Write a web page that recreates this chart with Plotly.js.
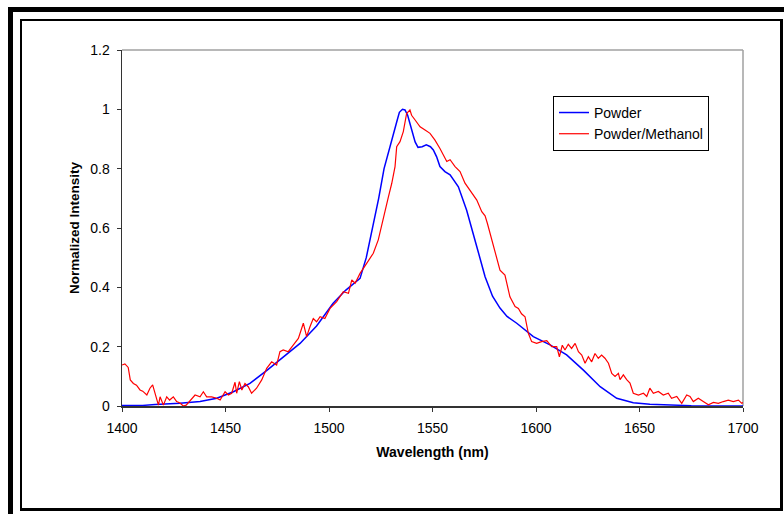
<!DOCTYPE html>
<html>
<head>
<meta charset="utf-8">
<script src="https://cdn.plot.ly/plotly-3.0.1.min.js"></script>
<style>
  html, body { margin: 0; padding: 0; background: #fff; }
  #wrap { position: relative; width: 784px; height: 514px; overflow: hidden; }
  #chart { position: absolute; left: 0; top: 0; width: 784px; height: 514px; }
  .frame { position: absolute; pointer-events: none; box-sizing: border-box; }
  #outer { left: 8px; top: 7px; width: 800px; height: 520px; border-left: 5px solid #000; border-top: 5px solid #000; }
  #inner { left: 20px; top: 19px; width: 763px; height: 492px; border-left: 2px solid #000; border-top: 2px solid #000; border-right: 3px solid #000; border-bottom: 3px solid #000; }
</style>
</head>
<body>
<div id="wrap">
  <div id="chart"></div>
  <div id="outer" class="frame"></div>
  <div id="inner" class="frame"></div>
</div>
<script>
// Powder (blue)
const powderX = [1400, 1410, 1416, 1420, 1428, 1437.7, 1445.8, 1453.8, 1461.8, 1470, 1478, 1486, 1494, 1502, 1508, 1515, 1518, 1521, 1524, 1526.6, 1529, 1531, 1533, 1534, 1535.5, 1536.7, 1538, 1539, 1540.5, 1541.6, 1543, 1545, 1547, 1549, 1550.4, 1552, 1553.6, 1556, 1558.5, 1562.5, 1566.5, 1569, 1571.4, 1575.4, 1579, 1582.6, 1586, 1590.7, 1598.7, 1606.8, 1614.8, 1622.9, 1631, 1639, 1647, 1655, 1663, 1675, 1690, 1700];
const powderY = [0.002, 0.002, 0.005, 0.006, 0.009, 0.015, 0.026, 0.048, 0.076, 0.12, 0.165, 0.211, 0.27, 0.346, 0.39, 0.43, 0.5, 0.6, 0.7, 0.8, 0.865, 0.915, 0.965, 0.99, 1.0, 0.998, 0.98, 0.955, 0.915, 0.89, 0.872, 0.874, 0.88, 0.874, 0.863, 0.84, 0.807, 0.79, 0.779, 0.739, 0.66, 0.593, 0.537, 0.436, 0.37, 0.33, 0.302, 0.279, 0.234, 0.206, 0.172, 0.121, 0.065, 0.026, 0.011, 0.006, 0.003, 0.001, 0.0, 0.0];

// Powder/Methanol (red)
const methX = [1400, 1401.4, 1403, 1404, 1405.5, 1407, 1408.7, 1410, 1412, 1413.5, 1414.8, 1416, 1417.6, 1418.4, 1420, 1421.6, 1423, 1424.8, 1426.4, 1428, 1429.6, 1431, 1433.7, 1435.3, 1437.7, 1439.3, 1440.9, 1443.3, 1445.8, 1447.4, 1449.8, 1451.4, 1453, 1454.6, 1455.4, 1456.7, 1457.9, 1459.4, 1461, 1462.6, 1465, 1467.5, 1469.9, 1472.3, 1474.7, 1476.3, 1477.9, 1480.3, 1482.8, 1485.2, 1487.6, 1489.2, 1490.8, 1492.4, 1494, 1495.7, 1498, 1500.5, 1503.7, 1506.9, 1509.4, 1511, 1512.6, 1515, 1518.2, 1521.4, 1523.8, 1525.4, 1527, 1528.7, 1530.3, 1531.9, 1532.7, 1534.3, 1535.9, 1537.5, 1539.1, 1539.9, 1541.6, 1544, 1546.4, 1548.8, 1551.2, 1553.6, 1556.9, 1558.5, 1560.9, 1563.3, 1565.7, 1568.1, 1571.4, 1573.8, 1575.4, 1576.5, 1577.8, 1580.2, 1582.6, 1585, 1587.4, 1589.9, 1591.5, 1593, 1594.7, 1596.3, 1597.9, 1600.3, 1602.7, 1605.2, 1607.6, 1610, 1611.3, 1612.7, 1614, 1615.6, 1617.2, 1618.9, 1620.5, 1622.1, 1623.7, 1625.3, 1626.9, 1628.5, 1630.1, 1631.7, 1633.3, 1635, 1636.6, 1638.2, 1639.8, 1640.6, 1642.2, 1643.8, 1645.4, 1647, 1649.5, 1651.9, 1653.5, 1655, 1656.7, 1659.1, 1661.5, 1663.9, 1665.5, 1668, 1670.4, 1672.8, 1674.4, 1676, 1678.4, 1680.8, 1683.3, 1685.7, 1688.1, 1690.5, 1692.9, 1695.3, 1697.8, 1699.4, 1700];
const methY = [0.138, 0.142, 0.13, 0.088, 0.076, 0.07, 0.054, 0.05, 0.037, 0.06, 0.071, 0.043, 0.003, 0.031, 0.003, 0.031, 0.02, 0.031, 0.015, 0.01, 0.0, 0.003, 0.026, 0.037, 0.031, 0.048, 0.031, 0.031, 0.026, 0.02, 0.048, 0.037, 0.043, 0.08, 0.043, 0.082, 0.054, 0.076, 0.065, 0.043, 0.06, 0.088, 0.127, 0.149, 0.138, 0.183, 0.189, 0.183, 0.206, 0.228, 0.279, 0.234, 0.267, 0.295, 0.284, 0.301, 0.295, 0.329, 0.352, 0.385, 0.38, 0.425, 0.414, 0.447, 0.481, 0.515, 0.56, 0.61, 0.66, 0.705, 0.75, 0.807, 0.874, 0.891, 0.925, 0.986, 0.998, 0.98, 0.964, 0.941, 0.93, 0.919, 0.896, 0.868, 0.824, 0.83, 0.807, 0.79, 0.751, 0.728, 0.694, 0.655, 0.641, 0.616, 0.582, 0.526, 0.458, 0.441, 0.368, 0.335, 0.329, 0.311, 0.301, 0.245, 0.217, 0.211, 0.217, 0.22, 0.2, 0.2, 0.166, 0.205, 0.189, 0.208, 0.194, 0.211, 0.183, 0.172, 0.144, 0.166, 0.149, 0.177, 0.161, 0.172, 0.161, 0.144, 0.11, 0.1, 0.11, 0.089, 0.105, 0.089, 0.077, 0.043, 0.037, 0.043, 0.032, 0.06, 0.043, 0.049, 0.037, 0.043, 0.026, 0.032, 0.009, 0.037, 0.032, 0.015, 0.026, 0.015, 0.004, 0.012, 0.009, 0.015, 0.02, 0.015, 0.02, 0.009, 0.012];

const seriesNames = ["Powder", "Powder/Methanol"];
const xTickVals = [1400, 1450, 1500, 1550, 1600, 1650, 1700];
const yTickVals = [0, 0.2, 0.4, 0.6, 0.8, 1, 1.2];

const fam = "Liberation Sans, Arial, sans-serif";
const font = {family: fam, size: 14, color: "#000"};

const traces = [
  {x: powderX, y: powderY, name: seriesNames[0], type: "scatter", mode: "lines",
   line: {color: "#0000ff", width: 1.5}, legendgroup: "a"},
  {x: methX, y: methY, name: seriesNames[1], type: "scatter", mode: "lines",
   line: {color: "#ff0000", width: 1.2}, legendgroup: "b"}
];

const layout = {
  width: 784, height: 514,
  margin: {l: 122, r: 41, t: 50, b: 108},
  paper_bgcolor: "rgba(0,0,0,0)",
  plot_bgcolor: "#fff",
  font: font,
  showlegend: true,
  legend: {
    x: 0.694, y: 0.871, xanchor: "left", yanchor: "top",
    bgcolor: "#fff", bordercolor: "#000", borderwidth: 1,
    font: {family: fam, size: 14, color: "#000"},
    tracegroupgap: 0
  },
  xaxis: {
    range: [1400, 1700], tickvals: xTickVals, ticktext: xTickVals.map(String),
    ticks: "outside", ticklen: 4, tickcolor: "#333", tickwidth: 1,
    ticklabelstandoff: 5,
    showline: true, linecolor: "#333", linewidth: 1.5,
    showgrid: false, zeroline: false,
    tickfont: {family: fam, size: 14, color: "#000"},
    title: {text: "<b>Wavelength (nm)</b>", font: {family: fam, size: 14, color: "#000"}, standoff: 12}
  },
  yaxis: {
    range: [0, 1.2], tickvals: yTickVals, ticktext: yTickVals.map(String),
    ticks: "outside", ticklen: 4, tickcolor: "#333", tickwidth: 1,
    ticklabelstandoff: 4,
    showline: true, linecolor: "#333", linewidth: 1.5,
    showgrid: false, zeroline: false,
    tickfont: {family: fam, size: 14, color: "#000"},
    title: {text: "<b>Normalized Intensity</b>", font: {family: fam, size: 13.5, color: "#000"}, standoff: 7}
  },
  shapes: [
    {type: "line", xref: "paper", yref: "paper", x0: 0, x1: 1, y0: 1, y1: 1, line: {color: "#a0a0a0", width: 1.5}, layer: "below"},
    {type: "line", xref: "paper", yref: "paper", x0: 1, x1: 1, y0: 0, y1: 1, line: {color: "#a0a0a0", width: 1.5}, layer: "below"}
  ]
};

Plotly.newPlot("chart", traces, layout, {displayModeBar: false, staticPlot: true});
</script>
</body>
</html>
